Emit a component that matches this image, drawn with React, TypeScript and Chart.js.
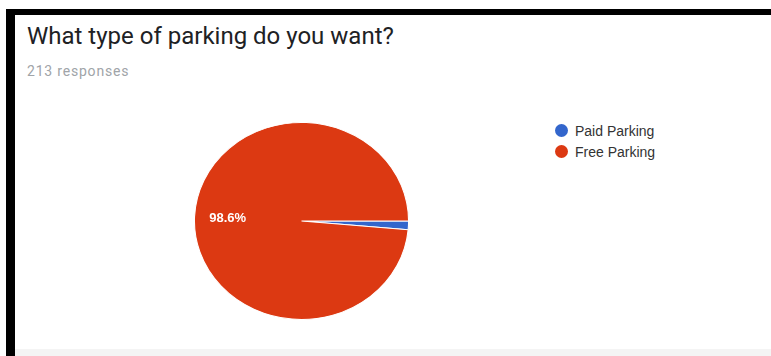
import React, { useEffect, useRef } from "react";
import { Chart, registerables } from "chart.js";

Chart.register(...registerables);

const categories = ["Paid Parking", "Free Parking"];
const responseCounts = [3, 210];
const sliceColors = ["#3366CC", "#DC3912"];
const titleText = "What type of parking do you want?";
const subtitleText = "213 responses";
const stretchX = 1.087;

const stretchPlugin = {
  id: "stretchPie",
  beforeDatasetsDraw(chart: any) {
    const meta = chart.getDatasetMeta(0);
    const arc = meta.data[0];
    if (!arc) return;
    const { x, y } = arc.getProps(["x", "y"], true);
    const ctx = chart.ctx;
    ctx.save();
    ctx.translate(x, y);
    ctx.scale(stretchX, 1);
    ctx.translate(-x, -y);
  },
  afterDatasetsDraw(chart: any) {
    const ctx = chart.ctx;
    ctx.restore();
    const meta = chart.getDatasetMeta(0);
    const total = responseCounts.reduce((a, b) => a + b, 0);
    meta.data.forEach((arc: any, i: number) => {
      const pct = (responseCounts[i] / total) * 100;
      if (pct < 5) return;
      const p = arc.getProps(["x", "y", "startAngle", "endAngle", "outerRadius"], true);
      const mid = (p.startAngle + p.endAngle) / 2;
      const r = p.outerRadius * 0.69;
      const tx = p.x + Math.cos(mid) * r * stretchX;
      const ty = p.y + Math.sin(mid) * r;
      ctx.save();
      ctx.fillStyle = "#ffffff";
      ctx.font = "bold 13px Arial";
      ctx.textAlign = "center";
      ctx.textBaseline = "middle";
      ctx.fillText(pct.toFixed(1) + "%", tx, ty);
      ctx.restore();
    });
  },
};

export default function App() {
  const canvasRef = useRef<HTMLCanvasElement | null>(null);

  useEffect(() => {
    document.body.style.margin = "0";
    if (!canvasRef.current) return;
    const chart = new Chart(canvasRef.current, {
      type: "pie",
      data: {
        labels: categories,
        datasets: [
          {
            data: responseCounts,
            backgroundColor: sliceColors,
            borderColor: "#ffffff",
            borderWidth: 1,
          },
        ],
      },
      options: {
        animation: false,
        responsive: true,
        maintainAspectRatio: false,
        rotation: 90,
        layout: { padding: 0 },
        plugins: {
          legend: { display: false },
          tooltip: { enabled: false },
        },
      },
      plugins: [stretchPlugin],
    });
    return () => chart.destroy();
  }, []);

  return (
    <div style={{ position: "relative", width: 771, height: 356, background: "#ffffff", overflow: "hidden" }}>
      <div
        style={{
          position: "absolute",
          left: 6,
          top: 9,
          width: 765,
          height: 347,
          borderTop: "6px solid #000",
          borderLeft: "9px solid #000",
          boxSizing: "border-box",
        }}
      />
      <div style={{ position: "absolute", left: 15, top: 349, width: 756, height: 7, background: "#f4f4f4" }} />
      <div
        style={{
          position: "absolute",
          left: 27,
          top: 22,
          fontFamily: "Roboto",
          fontSize: 24,
          color: "#202124",
          whiteSpace: "nowrap",
          lineHeight: "28px",
        }}
      >
        {titleText}
      </div>
      <div
        style={{
          position: "absolute",
          left: 27,
          top: 62,
          fontFamily: "Roboto",
          fontSize: 14,
          color: "#a0a4a8",
          whiteSpace: "nowrap",
          lineHeight: "18px",
          letterSpacing: "0.8px",
        }}
      >
        {subtitleText}
      </div>
      <div style={{ position: "absolute", left: 182, top: 122, width: 239, height: 198 }}>
        <canvas ref={canvasRef} />
      </div>
      <div style={{ position: "absolute", left: 555, top: 120 }}>
        {categories.map((c, i) => (
          <div key={c} style={{ display: "flex", alignItems: "center", height: 21 }}>
            <span
              style={{
                display: "inline-block",
                width: 13,
                height: 13,
                borderRadius: "50%",
                background: sliceColors[i],
                marginRight: 7,
              }}
            />
            <span style={{ fontFamily: "Arial", fontSize: 14, color: "#333", whiteSpace: "nowrap" }}>{c}</span>
          </div>
        ))}
      </div>
    </div>
  );
}
